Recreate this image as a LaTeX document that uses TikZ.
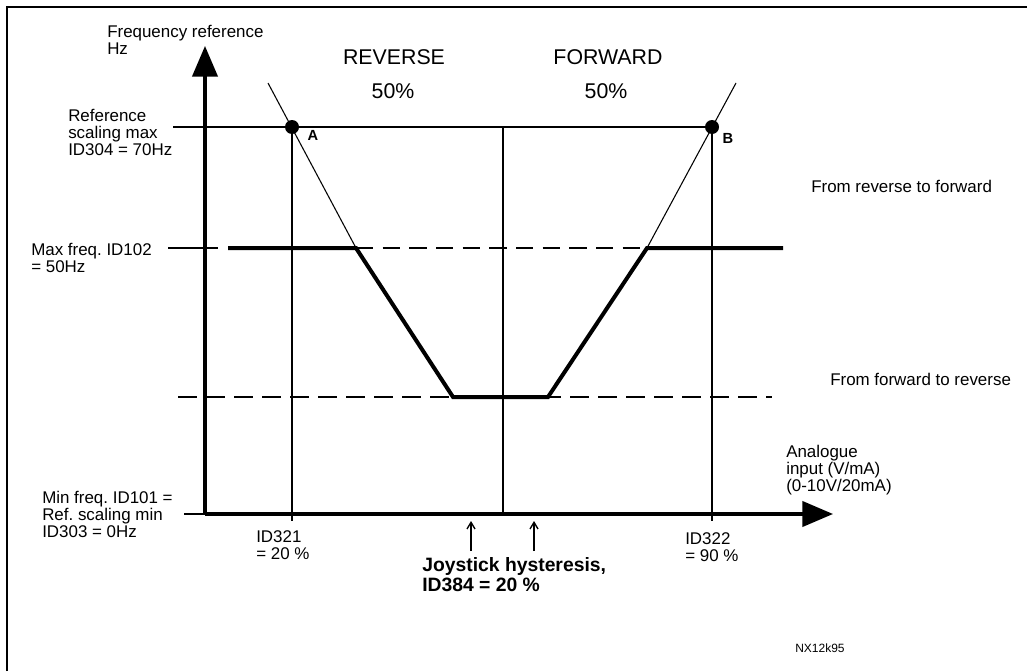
\documentclass[tikz,border=0pt]{standalone}
\usepackage{fontspec}
\setmainfont{Liberation Sans}
\usetikzlibrary{arrows.meta}
\frenchspacing
\begin{document}
\begin{tikzpicture}[x=0.75pt,y=-0.75pt,
  lbl/.style={font=\fontsize{12.7}{12.75}\selectfont, align=left, inner sep=0pt, anchor=base west},
  big/.style={font=\fontsize{16}{18}\selectfont, inner sep=0pt, anchor=base},
  boldlbl/.style={font=\fontsize{14.5}{14.3}\selectfont\bfseries, align=left, inner sep=0pt, anchor=base west},
  ptlbl/.style={font=\fontsize{11}{12}\selectfont\bfseries, inner sep=0pt},
  thinline/.style={line width=0.8pt},
  tick/.style={line width=1.6pt},
  curve/.style={line width=3pt, line join=miter},
  axisline/.style={line width=2.3pt, -{Triangle[length=23pt,width=19pt]}},
  dashthin/.style={line width=0.9pt, dash pattern=on 13pt off 7pt},
  dashthick/.style={line width=1.6pt, dash pattern=on 14pt off 7pt},
  dot/.style={fill=black},
  hyst/.style={line width=1pt, -{Straight Barb[length=5pt,width=6pt]}}
]
\useasboundingbox (0,0) rectangle (1027,671);
% frame
\draw[line width=1.4pt] (7,671) -- (7,7) -- (1027,7);

% key coordinates
\coordinate (O) at (205,514);
\coordinate (ytip) at (205,46);
\coordinate (xtip) at (833,514);
\coordinate (A) at (292,127);
\coordinate (B) at (712,127);
\coordinate (refL) at (173,127);
\coordinate (mid) at (503,127);
\coordinate (midB) at (503,514);
\coordinate (Abot) at (292,521);
\coordinate (Bbot) at (712,521);
\coordinate (ltop) at (268,83);
\coordinate (rtop) at (736,83);
\coordinate (p1) at (228,248);
\coordinate (p2) at (356,248);
\coordinate (p3) at (453,397);
\coordinate (p4) at (548,397);
\coordinate (p5) at (647,248);
\coordinate (p6) at (783,248);
\coordinate (maxL) at (168,248);
\coordinate (maxR) at (218,248);
\coordinate (minL) at (184,514);
\coordinate (dL) at (178,397);
\coordinate (dR) at (772,397);
\coordinate (h1a) at (471,551);
\coordinate (h1b) at (471,521);
\coordinate (h2a) at (534,551);
\coordinate (h2b) at (534,521);

% thin reference lines
\draw[thinline] (refL) -- (B);
\draw[thinline] (A) -- (Abot);
\draw[thinline] (B) -- (Bbot);
\draw[thinline] (mid) -- (midB);
\draw[thinline] (ltop) -- (p2);
\draw[thinline] (rtop) -- (p5);

% dashed lines
\draw[dashthin] (p2) -- (p5);
\draw[dashthick] (dL) -- (dR);

% ticks
\draw[tick] (maxL) -- (maxR);
\draw[tick] (minL) -- (O);

% characteristic curve
\draw[curve] (p1) -- (p2) -- (p3) -- (p4) -- (p5) -- (p6);

% axes
\draw[axisline] (O) -- (ytip);
\draw[axisline] (O) -- (xtip);

% points
\fill[dot] (A) circle (7);
\fill[dot] (B) circle (7);
\node[ptlbl] (Alab) at (313,135) {A};
\node[ptlbl] (Blab) at (728,138) {B};

% hysteresis arrows
\draw[hyst] (h1a) -- (h1b);
\draw[hyst] (h2a) -- (h2b);

% texts (anchor = baseline of the last line)
\node[lbl] (freqref) at (107,54) {Frequency reference\\Hz};
\node[big] (rev) at (394,64) {REVERSE};
\node[big] (rev50) at (393,98) {50\%};
\node[big] (fwd) at (608,64) {FORWARD};
\node[big] (fwd50) at (606,98) {50\%};
\node[lbl] (refmax) at (68,155) {Reference\\scaling max\\ID304 = 70Hz};
\node[lbl] (maxf) at (31,272) {Max freq. ID102\\= 50Hz};
\node[lbl] (minf) at (42,537) {Min freq. ID101 =\\Ref. scaling min\\ID303 = 0Hz};
\node[lbl] (id321) at (256,559) {ID321\\= 20 \%};
\node[lbl] (id322) at (685,561) {ID322\\= 90 \%};
\node[boldlbl] (hys) at (422,591) {Joystick hysteresis,\\ID384 = 20 \%};
\node[lbl] (ana) at (786,491) {Analogue\\input (V/mA)\\(0-10V/20mA)};
\node[lbl] (r2f) at (811,192) {From reverse to forward};
\node[lbl] (f2r) at (830,385) {From forward to reverse};
\node[font=\fontsize{9}{10}\selectfont, inner sep=0pt, anchor=base west] (nx) at (795,652) {NX12k95};
\end{tikzpicture}
\end{document}
